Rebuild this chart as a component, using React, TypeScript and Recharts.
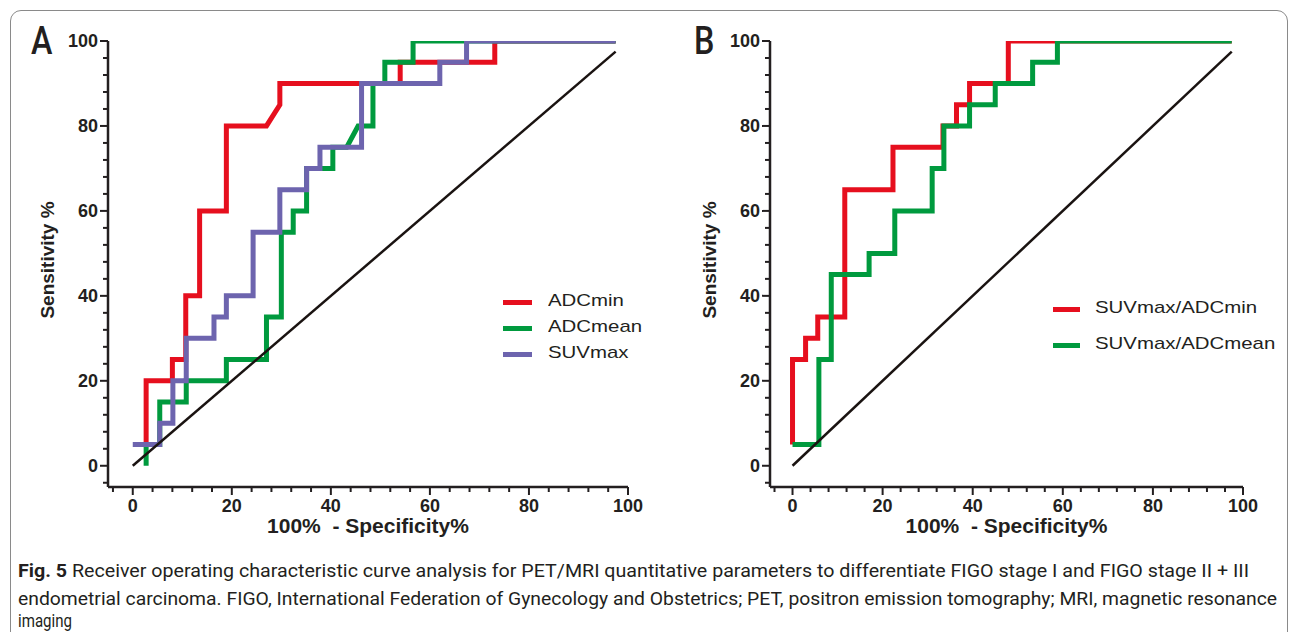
import React from "react"
import { LineChart, Line, XAxis, YAxis } from "recharts"

// ROC step curves as [100% - specificity, sensitivity]
const adcMin = [
  [2.7, 5], [2.7, 20], [8.0, 20], [8.0, 25], [10.7, 25], [10.7, 40], [13.5, 40], [13.5, 60],
  [18.9, 60], [18.9, 80], [27.0, 80], [29.7, 85], [29.7, 90], [54.0, 90], [54.0, 95],
  [73.1, 95], [73.1, 100], [97.5, 100],
]
const adcMean = [
  [2.7, 0], [2.7, 5], [5.45, 5], [5.45, 15], [10.8, 15], [10.8, 20], [18.9, 20], [18.9, 25],
  [27.0, 25], [27.0, 35], [30.0, 35], [30.0, 55], [32.4, 55], [32.4, 60], [35.1, 60], [35.1, 70],
  [40.4, 70], [40.4, 75], [43.2, 75], [45.5, 80], [48.5, 80], [48.5, 90], [50.9, 90], [50.9, 95],
  [56.6, 95], [56.6, 100], [97.5, 100],
]
const suvMax = [
  [0, 5], [5.45, 5], [5.45, 10], [8.1, 10], [8.1, 20], [10.8, 20], [10.8, 30], [16.4, 30],
  [16.4, 35], [18.9, 35], [18.9, 40], [24.3, 40], [24.3, 55], [29.7, 55], [29.7, 65], [35.1, 65],
  [35.1, 70], [37.8, 70], [37.8, 75], [46.2, 75], [46.2, 90], [62.0, 90], [62.0, 95], [67.4, 95],
  [67.4, 100], [97.5, 100],
]
const suvAdcMin = [
  [0, 5], [0, 25], [2.9, 25], [2.9, 30], [5.6, 30], [5.6, 35], [11.6, 35], [11.6, 65],
  [22.3, 65], [22.3, 75], [33.4, 75], [33.4, 80], [36.4, 80], [36.4, 85], [39.3, 85], [39.3, 90],
  [47.9, 90], [47.9, 100], [97.5, 100],
]
const suvAdcMean = [
  [0, 5], [5.85, 5], [5.85, 25], [8.6, 25], [8.6, 45], [17.0, 45], [17.0, 50], [22.7, 50],
  [22.7, 60], [31.0, 60], [31.0, 70], [33.6, 70], [33.6, 80], [39.3, 80], [39.3, 85], [45.0, 85],
  [45.0, 90], [53.3, 90], [53.3, 95], [58.8, 95], [58.8, 100], [97.5, 100],
]
const chance = [[0, 0], [97.5, 97.5]]

const axisTicks = [-4, 0, 4, 8, 12, 16, 20, 24, 28, 32, 36, 40, 44, 48, 52, 56, 60, 64, 68, 72, 76, 80, 84, 88, 92, 96, 100]
const majorTicks = [0, 20, 40, 60, 80, 100]

const namesA = ["ADCmin", "ADCmean", "SUVmax"]
const namesB = ["SUVmax/ADCmin", "SUVmax/ADCmean"]

const RED = "#e60f1e"
const GREEN = "#009a3e"
const PURPLE = "#6d64ae"
const INK = "#231f20"

const toPts = (arr: number[][]) => arr.map(([x, y]) => ({ x, y }))

const XTick = (props: any) => {
  const { x, y, payload } = props
  const major = majorTicks.includes(payload.value)
  return (
    <g>
      <line x1={x} x2={x} y1={y} y2={y + (major ? 8 : 5)} stroke={INK} strokeWidth={2} />
      {major && (
        <text x={x} y={y + 25} textAnchor="middle" fontSize={18} fontWeight="bold" fill={INK}>
          {payload.value}
        </text>
      )}
    </g>
  )
}

const YTick = (props: any) => {
  const { x, y, payload } = props
  const major = majorTicks.includes(payload.value)
  return (
    <g>
      <line x1={x - (major ? 8 : 5)} x2={x} y1={y} y2={y} stroke={INK} strokeWidth={2} />
      {major && (
        <text x={x - 10} y={y} dy="0.36em" textAnchor="end" fontSize={18} fontWeight="bold" fill={INK}>
          {payload.value}
        </text>
      )}
    </g>
  )
}

const xTitle = (props: any) => {
  const vb = props.viewBox
  return (
    <text x={vb.x + vb.width / 2} y={vb.y + 46} textAnchor="middle" fontSize={21} fontWeight="bold" fill={INK} style={{ whiteSpace: "pre" }}>
      {"100%  - Specificity%"}
    </text>
  )
}

const yTitle = (props: any) => {
  const vb = props.viewBox
  const cx = vb.x + vb.width - 61
  const cy = vb.y + vb.height / 2 - 4
  return (
    <text x={cx} y={cy} transform={`rotate(-90, ${cx}, ${cy})`} textAnchor="middle" dominantBaseline="central" fontSize={19} fontWeight="bold" fill={INK}>
      Sensitivity %
    </text>
  )
}

function RocPanel({ width, yAxisWidth, right, series }: { width: number; yAxisWidth: number; right: number; series: { pts: number[][]; color: string }[] }) {
  return (
    <LineChart width={width} height={545} margin={{ top: 41, right, bottom: 0, left: 0 }}>
      <XAxis
        type="number"
        dataKey="x"
        domain={[-5, 100]}
        allowDataOverflow
        ticks={axisTicks}
        interval={0}
        tick={<XTick />}
        tickLine={false}
        tickSize={0}
        tickMargin={0}
        height={58}
        axisLine={{ stroke: INK, strokeWidth: 2.5 }}
        label={xTitle}
      />
      <YAxis
        type="number"
        dataKey="y"
        domain={[-5, 100]}
        allowDataOverflow
        ticks={axisTicks}
        interval={0}
        tick={<YTick />}
        tickLine={false}
        tickSize={0}
        tickMargin={0}
        width={yAxisWidth}
        axisLine={{ stroke: INK, strokeWidth: 2.5 }}
        label={yTitle}
      />
      {series.map((s, i) => (
        <Line
          key={i}
          data={toPts(s.pts)}
          dataKey="y"
          type="linear"
          dot={false}
          activeDot={false}
          stroke={s.color}
          strokeWidth={5}
          strokeLinejoin="miter"
          isAnimationActive={false}
        />
      ))}
      <Line data={toPts(chance)} dataKey="y" type="linear" dot={false} activeDot={false} stroke="#1a1311" strokeWidth={2.5} isAnimationActive={false} />
    </LineChart>
  )
}

function Key({ left, top, gap, names, colors, lineLen, textGap }: { left: number; top: number; gap: number; names: string[]; colors: string[]; lineLen: number; textGap: number }) {
  return (
    <div style={{ position: "absolute", left, top }}>
      {names.map((n, i) => (
        <div key={n} style={{ position: "absolute", left: 0, top: i * gap, height: 0, whiteSpace: "nowrap" }}>
          <div style={{ position: "absolute", left: 0, top: -2.5, width: lineLen, height: 5, background: colors[i] }} />
          <div
            style={{
              position: "absolute",
              left: lineLen + textGap,
              top: -11,
              fontSize: 17,
              lineHeight: "20px",
              color: INK,
              transform: "scaleX(1.2)",
              transformOrigin: "left center",
            }}
          >
            {n}
          </div>
        </div>
      ))}
    </div>
  )
}

const letterStyle: React.CSSProperties = {
  position: "absolute",
  top: 19,
  fontFamily: "Roboto, sans-serif",
  fontWeight: 500,
  fontSize: 38,
  color: INK,
  transform: "scaleX(0.85)",
  transformOrigin: "left top",
  lineHeight: "44px",
}

export default function App() {
  return (
    <div
      style={{
        position: "absolute",
        left: 0,
        top: 0,
        width: 1293,
        height: 632,
        overflow: "hidden",
        background: "#fff",
        fontFamily: "'Liberation Sans', Arial, sans-serif",
      }}
    >
      <div
        style={{
          position: "absolute",
          left: 10,
          top: 10,
          width: 1276,
          height: 700,
          border: "1px solid #8a8a8a",
          borderRadius: 11,
        }}
      />
      <div style={{ position: "absolute", left: 0, top: 0 }}>
        <RocPanel
          width={660}
          yAxisWidth={108}
          right={32}
          series={[
            { pts: adcMin, color: RED },
            { pts: adcMean, color: GREEN },
            { pts: suvMax, color: PURPLE },
          ]}
        />
      </div>
      <div style={{ position: "absolute", left: 660, top: 0 }}>
        <RocPanel
          width={633}
          yAxisWidth={110}
          right={50}
          series={[
            { pts: suvAdcMin, color: RED },
            { pts: suvAdcMean, color: GREEN },
          ]}
        />
      </div>
      <Key left={503} top={302} gap={26} names={namesA} colors={[RED, GREEN, PURPLE]} lineLen={29} textGap={16} />
      <Key left={1053} top={309} gap={36} names={namesB} colors={[RED, GREEN]} lineLen={27} textGap={15} />
      <div style={{ ...letterStyle, left: 31 }}>A</div>
      <div style={{ ...letterStyle, left: 694 }}>B</div>
      <svg width={1293} height={92} style={{ position: "absolute", left: 0, top: 540 }}>
        <g fontFamily="Roboto, sans-serif" fontSize={18} fill={INK}>
          <text x={18} y={37} textLength={1231} lengthAdjust="spacingAndGlyphs">
            <tspan fontWeight="bold">Fig. 5</tspan>
            <tspan>{"  Receiver operating characteristic curve analysis for PET/MRI quantitative parameters to differentiate FIGO stage I and FIGO stage II + III"}</tspan>
          </text>
          <text x={18} y={65} textLength={1259} lengthAdjust="spacingAndGlyphs">
            endometrial carcinoma. FIGO, International Federation of Gynecology and Obstetrics; PET, positron emission tomography; MRI, magnetic resonance
          </text>
          <text x={18} y={87} textLength={54} lengthAdjust="spacingAndGlyphs">
            imaging
          </text>
        </g>
      </svg>
    </div>
  )
}
